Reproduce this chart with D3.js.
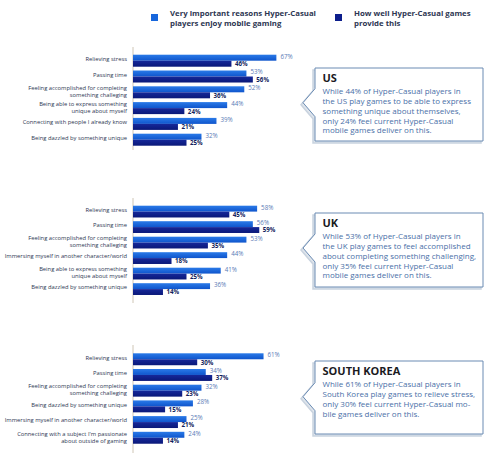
<!DOCTYPE html>
<html>
<head>
<meta charset="utf-8">
<script src="https://cdn.jsdelivr.net/npm/d3@7"></script>
<style>
  body { margin: 0; background: #ffffff; }
  svg { display: block; font-family: "Open Sans", "Noto Sans", sans-serif; }
</style>
</head>
<body>
<svg id="chart"></svg>
<script>
// ---- data ----
var seriesNames = ["Very important reasons Hyper-Casual|players enjoy mobile gaming",
                   "How well Hyper-Casual games|provide this"];

var usCategories = ["Relieving stress", "Passing time",
  "Feeling accomplished for completing|something challeging",
  "Being able to express something|unique about myself",
  "Connecting with people I already know",
  "Being dazzled by something unique"];
var usImportant = [67, 53, 52, 44, 39, 32];
var usProvide   = [46, 56, 36, 24, 21, 25];

var ukCategories = ["Relieving stress", "Passing time",
  "Feeling accomplished for completing|something challeging",
  "Immersing myself in another character/world",
  "Being able to express something|unique about myself",
  "Being dazzled by something unique"];
var ukImportant = [58, 56, 53, 44, 41, 36];
var ukProvide   = [45, 59, 35, 18, 25, 14];

var krCategories = ["Relieving stress", "Passing time",
  "Feeling accomplished for completing|something challeging",
  "Being dazzled by something unique",
  "Immersing myself in another character/world",
  "Connecting with a subject I'm passionate|about outside of gaming"];
var krImportant = [61, 34, 32, 28, 25, 24];
var krProvide   = [30, 37, 23, 15, 21, 14];

var usNote = ["US", "While 44% of Hyper-Casual players in", "the US play games to be able to express",
  "something unique about themselves,", "only 24% feel current Hyper-Casual", "mobile games deliver on this."];
var ukNote = ["UK", "While 53% of Hyper-Casual players in", "the UK play games to feel accomplished",
  "about completing something challenging,", "only 35% feel current Hyper-Casual", "mobile games deliver on this."];
var krNote = ["SOUTH KOREA", "While 61% of Hyper-Casual players in", "South Korea play games to relieve stress,",
  "only 30% feel current Hyper-Casual mo-", "bile games deliver on this."];

var w = 499, h = 458;
var svg = d3.select("#chart").attr("width", w).attr("height", h);

var colors = {
  "light" : "#1766dc",
  "dark" : "#0d1e8c",
  "label" : "#2d3652",
  "lightText" : "#5b7bb6",
  "darkText" : "#141f5e",
  "note" : "#4a70a8",
  "border" : "#6a8bb3"
};

// gradients for the bars (slightly lighter at the top)
var defs = svg.append("defs");
function addGradient(id, top, bottom) {
  var g = defs.append("linearGradient").attr("id", id)
    .attr("x1", 0).attr("y1", 0).attr("x2", 0).attr("y2", 1);
  g.append("stop").attr("offset", "0%").attr("stop-color", top);
  g.append("stop").attr("offset", "100%").attr("stop-color", bottom);
}
addGradient("gLight", "#2a7ae8", "#0f55cc");
addGradient("gDark", "#16289a", "#0a1878");

var x = d3.scaleLinear().domain([0, 100]).range([133, 347]);

// ---- legend ----
var legend = [
  { x: 151, color: colors.light, text: seriesNames[0] },
  { x: 335, color: colors.dark, text: seriesNames[1] }
];
legend.forEach(function(l) {
  svg.append("rect").attr("x", l.x).attr("y", 14).attr("width", 7).attr("height", 7)
    .style("fill", l.color);
  var t = svg.append("text")
    .attr("font-size", "7.8px").attr("font-weight", "bold")
    .style("fill", colors.label);
  l.text.split("|").forEach(function(line, i) {
    t.append("tspan")
      .attr("x", l.x + 19).attr("y", 13.7 + i * 9.8)
      .attr("dominant-baseline", "middle")
      .text(line);
  });
});

// ---- panels ----
var panels = [
  { cats: usCategories, imp: usImportant, prov: usProvide, note: usNote,
    axisTop: 47, axisBottom: 150, first: 54.7, step: 15.8, box: [315, 68, 483, 141], tip: 102.7 },
  { cats: ukCategories, imp: ukImportant, prov: ukProvide, note: ukNote,
    axisTop: 198, axisBottom: 303, first: 205.7, step: 15.5, box: [315, 213, 483, 287], tip: 248 },
  { cats: krCategories, imp: krImportant, prov: krProvide, note: krNote,
    axisTop: 345, axisBottom: 453, first: 353.3, step: 15.7, box: [315, 361, 483, 434], tip: 396.7 }
];

panels.forEach(function(p) {
  var g = svg.append("g");
  var n = p.cats.length;
  var pad = 0.24;
  var start = p.first - (pad / 2) * p.step;
  var y = d3.scaleBand().domain(d3.range(n))
    .range([start, start + n * p.step])
    .paddingInner(pad).paddingOuter(pad / 2);
  var sub = d3.scaleBand().domain(["imp", "prov"]).range([0, y.bandwidth()]);

  g.append("line")
    .attr("x1", x(0)).attr("x2", x(0))
    .attr("y1", p.axisTop).attr("y2", p.axisBottom)
    .style("stroke", "#cfc6b6").style("stroke-width", 1);

  var rows = g.selectAll(".row").data(d3.range(n)).enter().append("g")
    .attr("transform", function(i) { return "translate(0," + y(i) + ")"; });

  rows.append("rect")
    .attr("x", x(0)).attr("y", sub("imp"))
    .attr("width", function(i) { return x(p.imp[i]) - x(0); })
    .attr("height", sub.bandwidth())
    .style("fill", "url(#gLight)");
  rows.append("rect")
    .attr("x", x(0)).attr("y", sub("prov"))
    .attr("width", function(i) { return x(p.prov[i]) - x(0); })
    .attr("height", sub.bandwidth())
    .style("fill", "url(#gDark)");

  rows.append("text")
    .attr("x", function(i) { return x(p.imp[i]) + 4; })
    .attr("y", sub("imp") + sub.bandwidth() / 2 - 0.8)
    .attr("dominant-baseline", "middle")
    .attr("font-size", "6.2px")
    .style("fill", colors.lightText)
    .text(function(i) { return p.imp[i] + "%"; });
  rows.append("text")
    .attr("x", function(i) { return x(p.prov[i]) + 3.5; })
    .attr("y", sub("prov") + sub.bandwidth() / 2 + 0.8)
    .attr("dominant-baseline", "middle")
    .attr("font-size", "6.2px").attr("font-weight", "bold")
    .style("fill", colors.darkText)
    .text(function(i) { return p.prov[i] + "%"; });

  // category labels (two-line labels as one text with tspans)
  rows.each(function(i) {
    var lines = p.cats[i].split("|");
    var t = d3.select(this).append("text")
      .attr("text-anchor", "end")
      .attr("font-size", "5.8px")
      .style("fill", colors.label);
    lines.forEach(function(line, k) {
      var yy = lines.length === 1 ? y.bandwidth() / 2 - 1.2
                                  : sub.bandwidth() / 2 - 0.8 + k * 7;
      t.append("tspan")
        .attr("x", 127).attr("y", yy)
        .attr("dominant-baseline", "middle")
        .text(line);
    });
  });

  // callout box
  var b = p.box;
  var path = d3.path();
  path.moveTo(b[0], b[1]);
  path.lineTo(b[2], b[1]);
  path.lineTo(b[2], b[3]);
  path.lineTo(b[0], b[3]);
  path.lineTo(b[0], p.tip + 14);
  path.lineTo(b[0] - 12, p.tip);
  path.lineTo(b[0], p.tip - 14);
  path.closePath();
  g.append("path").attr("d", path.toString())
    .attr("transform", "translate(-2,2)")
    .style("fill", "#dfe5ec").style("stroke", "#c9d3df").style("stroke-width", 1.5);
  g.append("path").attr("d", path.toString())
    .style("fill", "#ffffff").style("stroke", colors.border).style("stroke-width", 1);

  g.append("text")
    .attr("x", b[0] + 7.5).attr("y", b[1] + 11.5)
    .attr("dominant-baseline", "middle")
    .attr("font-size", "11px").attr("font-weight", "bold")
    .style("fill", "#1b1b1f")
    .text(p.note[0]);
  var body = g.append("text")
    .attr("font-size", "8px")
    .style("fill", colors.note);
  p.note.slice(1).forEach(function(line, k) {
    body.append("tspan")
      .attr("x", b[0] + 7.5).attr("y", b[1] + 24.3 + k * 9.7)
      .attr("dominant-baseline", "middle")
      .text(line);
  });
});
</script>
</body>
</html>
